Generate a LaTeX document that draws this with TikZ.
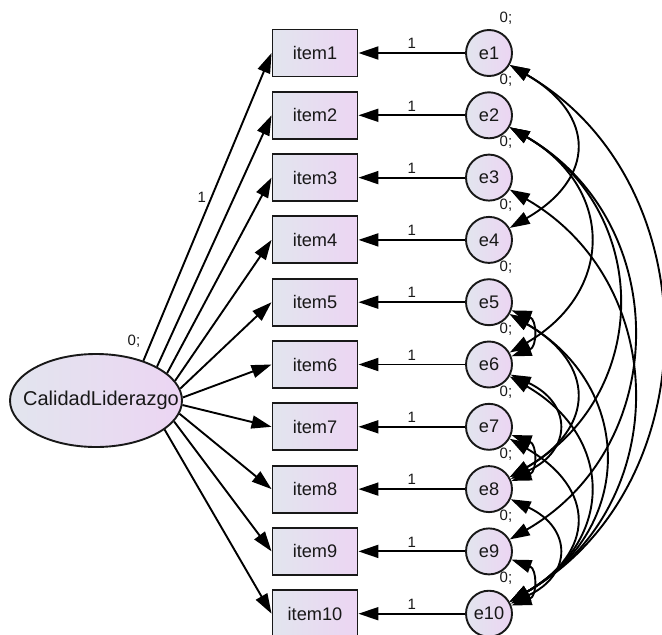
\documentclass[tikz,border=0pt]{standalone}
\usepackage{fontspec}
\setmainfont{Liberation Sans}
\usetikzlibrary{arrows.meta,shapes.geometric}
\definecolor{shadeL}{RGB}{226,229,238}
\definecolor{shadeR}{RGB}{236,213,243}
\definecolor{ink}{RGB}{24,24,24}
\begin{document}
\begin{tikzpicture}[x=1pt,y=1pt,
  tip/.tip={Triangle[length=20pt,width=13pt]},
  obs/.style={draw=ink,line width=1.9pt,minimum width=85pt,minimum height=47pt,
    inner sep=0pt,left color=shadeL,right color=shadeR,text=ink,
    font=\fontsize{18.2}{20}\selectfont},
  err/.style={circle,draw=ink,line width=1.9pt,minimum size=46pt,inner sep=0pt,
    left color=shadeL,right color=shadeR,text=ink,font=\fontsize{18.2}{20}\selectfont},
  lat/.style={ellipse,draw=ink,line width=1.9pt,minimum width=172pt,minimum height=93pt,
    inner sep=0pt,left color=shadeL,right color=shadeR,text=ink,
    font=\fontsize{20}{22}\selectfont},
  small/.style={font=\fontsize{15}{17}\selectfont,text=ink},
  path/.style={-tip,line width=1.9pt,draw=black},
  cov/.style={tip-tip,line width=1.9pt,draw=black},
  span1/.style={out=-20,in=20,looseness=1.53},
  span2/.style={out=-25,in=25,looseness=1.67},
  span3/.style={out=-30,in=30,looseness=1.57},
  span4/.style={out=-30,in=30,looseness=1.38},
  span5/.style={out=-30,in=30,looseness=1.29},
  span6/.style={out=-30,in=30,looseness=1.21},
  span7/.style={out=-30,in=30,looseness=1.17},
  span8/.style={out=-30,in=30,looseness=1.14},
  span9/.style={out=-30,in=30,looseness=1.11}]
\useasboundingbox (0,0) rectangle (662,-635);

% latent factor
\node[lat] (F) at (96,-400.5) {\makebox[0pt][c]{\hspace{10pt}CalidadLiderazgo}};
\node[small] (Fv) at (134,-341) {0;};

% indicators, their error terms and the fixed error paths
\foreach \k in {1,...,10} {
  \pgfmathsetmacro\yy{-(53+62.3*(\k-1))}
  \node[obs] (item\k) at (315,\yy) {item\k};
  \node[err] (e\k) at (489,\yy) {e\k};
  \node[small] (v\k) at (506,\yy+35) {0;};
  \draw[path] (e\k) -- node[pos=0.5,above=0pt,small] {1} (item\k);
}

% factor loadings
\foreach \k/\a in {2/29.8,3/21.6,4/14.5,5/8.2,6/2.3,7/-3.4,8/-9.4,9/-15.9,10/-23.1}
  \draw[path] (F.\a) -- (item\k.west);
\draw[path] (F.40) -- node[pos=0.53,left=1pt,small] {1} (item1.west);

% error covariances
\foreach \i/\j/\n in {1/4/3,1/10/9,2/6/4,2/8/6,2/9/7,3/10/7,5/6/1,5/8/3,5/10/5,
                      6/8/2,6/10/4,7/8/1,7/10/3,8/10/2,9/10/1}
  \draw[cov] (e\i) to[span\n] (e\j);
\end{tikzpicture}
\end{document}
